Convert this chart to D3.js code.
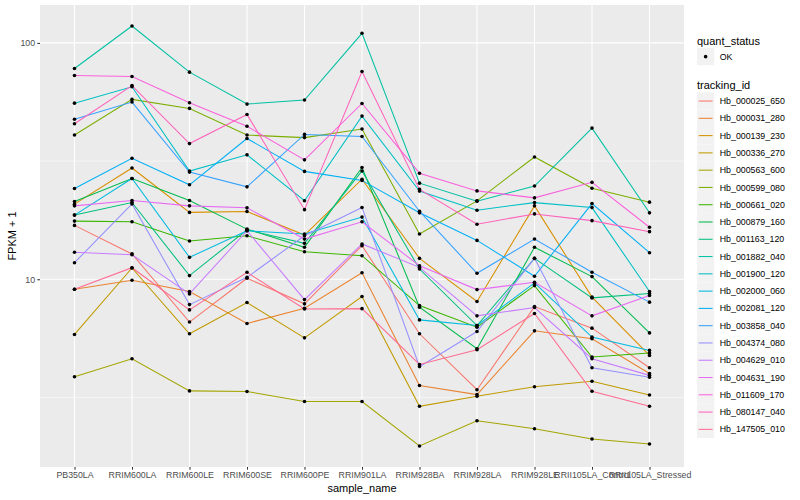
<!DOCTYPE html>
<html>
<head>
<meta charset="utf-8">
<script src="https://cdn.jsdelivr.net/npm/d3@7"></script>
<style>
  html, body { margin: 0; padding: 0; background: #ffffff; }
  svg { display: block; font-family: "Liberation Sans", Arial, Helvetica, sans-serif; }
</style>
</head>
<body>
<svg id="chart" width="800" height="500"></svg>
<script>
// ---------- data ----------
const samples = ["PB350LA", "RRIM600LA", "RRIM600LE", "RRIM600SE", "RRIM600PE", "RRIM901LA",
  "RRIM928BA", "RRIM928LA", "RRIM928LE", "RRII105LA_Control", "RRII105LA_Stressed"];

const trackingIds = ["Hb_000025_650", "Hb_000031_280", "Hb_000139_230", "Hb_000336_270", "Hb_000563_600",
  "Hb_000599_080", "Hb_000661_020", "Hb_000879_160", "Hb_001163_120", "Hb_001882_040",
  "Hb_001900_120", "Hb_002000_060", "Hb_002081_120", "Hb_003858_040", "Hb_004374_080",
  "Hb_004629_010", "Hb_004631_190", "Hb_011609_170", "Hb_080147_040", "Hb_147505_010"];

// FPKM + 1 per sample (same order as samples)
const hb_000025_650 = [16.9, 12.8, 6.59, 10.1, 7.87, 13.87, 5.88, 3.41, 7.66, 6.21, 4.22];
const hb_000031_280 = [9.07, 9.90, 8.87, 6.50, 7.54, 10.66, 3.55, 3.25, 6.05, 5.60, 3.99];
const hb_000139_230 = [20.78, 29.57, 19.18, 19.36, 15.38, 26.50, 12.26, 8.05, 20.44, 8.40, 4.76];
const hb_000336_270 = [5.84, 11.16, 5.88, 7.97, 5.65, 8.45, 2.90, 3.20, 3.51, 3.70, 3.24];
const hb_000563_600 = [3.87, 4.61, 3.37, 3.35, 3.04, 3.04, 1.97, 2.52, 2.33, 2.11, 2.01];
const hb_000599_080 = [40.75, 57.66, 52.82, 40.75, 39.74, 43.20, 15.53, 21.46, 32.91, 24.27, 21.19];
const hb_000661_020 = [17.62, 17.50, 14.51, 15.28, 13.08, 12.58, 7.74, 6.27, 9.40, 4.69, 4.87];
const hb_000879_160 = [21.33, 26.68, 21.54, 16.30, 13.65, 29.69, 7.62, 5.08, 13.65, 10.26, 5.93];
const hb_001163_120 = [18.68, 21.13, 10.36, 16.19, 14.19, 28.72, 11.05, 6.37, 12.26, 8.34, 8.70];
const hb_001882_040 = [77.9, 117.9, 75.2, 55.1, 57.3, 109.8, 25.5, 21.4, 24.8, 43.6, 19.1];
const hb_001900_120 = [55.6, 65.2, 28.7, 33.6, 21.5, 49.0, 23.6, 19.6, 21.1, 20.1, 8.87];
const hb_002000_060 = [18.68, 26.68, 12.38, 16.04, 15.53, 18.32, 6.73, 6.37, 9.65, 5.69, 5.00];
const hb_002081_120 = [24.2, 32.5, 25.1, 39.4, 28.6, 26.2, 19.1, 14.6, 10.3, 20.9, 12.95];
const hb_003858_040 = [47.5, 56.2, 28.4, 24.6, 41.0, 40.2, 19.4, 10.6, 14.8, 10.7, 8.0];
const hb_004374_080 = [11.75, 20.84, 7.81, 10.19, 15.28, 20.13, 4.27, 6.01, 12.26, 4.22, 3.85];
const hb_004629_010 = [13.0, 12.7, 8.67, 16.04, 8.20, 14.10, 11.23, 7.00, 7.59, 4.61, 3.92];
const hb_004631_190 = [20.44, 21.54, 20.44, 20.05, 14.79, 17.50, 11.41, 9.04, 9.71, 7.00, 8.53];
const hb_011609_170 = [72.8, 72.1, 55.8, 44.4, 32.0, 55.45, 28.1, 23.65, 22.1, 25.7, 16.6];
const hb_080147_040 = [45.5, 66.0, 37.5, 49.8, 19.7, 75.7, 24.0, 17.1, 18.9, 17.7, 15.9];
const hb_147505_010 = [9.07, 11.19, 7.42, 10.70, 7.49, 7.51, 4.36, 5.03, 7.16, 3.36, 2.90];

const seriesValues = [hb_000025_650, hb_000031_280, hb_000139_230, hb_000336_270, hb_000563_600,
  hb_000599_080, hb_000661_020, hb_000879_160, hb_001163_120, hb_001882_040,
  hb_001900_120, hb_002000_060, hb_002081_120, hb_003858_040, hb_004374_080,
  hb_004629_010, hb_004631_190, hb_011609_170, hb_080147_040, hb_147505_010];

const quantStatus = ["OK"];
const yTicks = [10, 100];

// ggplot default hue palette for 20 levels
const palette = ["#F8766D", "#EA8331", "#D89000", "#C09B00", "#A3A500", "#7CAE00", "#39B600", "#00BB4E",
  "#00BF7D", "#00C1A3", "#00BFC4", "#00BAE0", "#00B0F6", "#35A2FF", "#9590FF", "#C77CFF",
  "#E76BF3", "#FA62DB", "#FF62BC", "#FF6C91"];

// ---------- layout ----------
const svg = d3.select("#chart");
const W = 800, H = 500;
const panel = { left: 40, right: 684, top: 5, bottom: 467 };

const series = trackingIds.map((id, i) => ({
  id, color: palette[i],
  values: samples.map((s, j) => ({ sample: s, v: seriesValues[i][j] }))
}));

const allVals = seriesValues.flat();
const lmin = Math.log10(d3.min(allVals)), lmax = Math.log10(d3.max(allVals));
const pad = (lmax - lmin) * 0.05;

const x = d3.scalePoint().domain(samples).range([panel.left, panel.right]).padding(0.6);
const y = d3.scaleLog().domain([Math.pow(10, lmin - pad), Math.pow(10, lmax + pad)])
  .range([panel.bottom, panel.top]);

// panel background
svg.append("rect").attr("x", panel.left).attr("y", panel.top)
  .attr("width", panel.right - panel.left).attr("height", panel.bottom - panel.top)
  .attr("fill", "#EBEBEB");

const grid = svg.append("g");
// minor gridlines (midpoints in log space)
const minor = [Math.pow(10, 0.5), Math.pow(10, 1.5)].filter(v => v > y.domain()[0] && v < y.domain()[1]);
grid.selectAll("line.minor").data(minor).enter().append("line")
  .attr("x1", panel.left).attr("x2", panel.right)
  .attr("y1", d => y(d)).attr("y2", d => y(d))
  .attr("stroke", "#ffffff").attr("stroke-width", 0.55);
// major gridlines
grid.selectAll("line.majy").data(yTicks).enter().append("line")
  .attr("x1", panel.left).attr("x2", panel.right)
  .attr("y1", d => y(d)).attr("y2", d => y(d))
  .attr("stroke", "#ffffff").attr("stroke-width", 1.1);
grid.selectAll("line.majx").data(samples).enter().append("line")
  .attr("y1", panel.top).attr("y2", panel.bottom)
  .attr("x1", d => x(d)).attr("x2", d => x(d))
  .attr("stroke", "#ffffff").attr("stroke-width", 1.1);

// lines
const line = d3.line().x(d => x(d.sample)).y(d => y(d.v));
svg.append("g").selectAll("path").data(series).enter().append("path")
  .attr("d", d => line(d.values))
  .attr("fill", "none").attr("stroke", d => d.color).attr("stroke-width", 1.05);

// points
svg.append("g").selectAll("g").data(series).enter().append("g")
  .selectAll("circle").data(d => d.values).enter().append("circle")
  .attr("cx", d => x(d.sample)).attr("cy", d => y(d.v)).attr("r", 1.8).attr("fill", "#000000");

// axes
const axisCol = "#333333", textCol = "#4D4D4D";
const yAxis = svg.append("g").attr("transform", `translate(${panel.left},0)`)
  .call(d3.axisLeft(y).tickValues(yTicks).tickFormat(d3.format("d")).tickSize(2.7).tickPadding(2.2));
const xAxis = svg.append("g").attr("transform", `translate(0,${panel.bottom})`)
  .call(d3.axisBottom(x).tickSize(2.7).tickPadding(2.2));
[yAxis, xAxis].forEach(a => {
  a.select(".domain").remove();
  a.selectAll(".tick line").attr("stroke", axisCol).attr("stroke-width", 1.05);
  a.selectAll(".tick text").attr("fill", textCol).style("font-size", "8.8px")
    .style("font-family", "'Liberation Sans', Arial, sans-serif");
});

// axis titles
svg.append("text").attr("x", (panel.left + panel.right) / 2).attr("y", 492)
  .attr("text-anchor", "middle").style("font-size", "11px").attr("fill", "#000")
  .text("sample_name");
svg.append("text").attr("transform", `translate(16,${(panel.top + panel.bottom) / 2}) rotate(-90)`)
  .attr("text-anchor", "middle").style("font-size", "11px").attr("fill", "#000")
  .text("FPKM + 1");

// legends
const lg = svg.append("g");
const keyX = 697, keyS = 17.28;
lg.append("text").attr("x", keyX).attr("y", 44.5).style("font-size", "11px").text("quant_status");
const qs = lg.selectAll("g.qs").data(quantStatus).enter().append("g")
  .attr("transform", (d, i) => `translate(${keyX},${48 + i * keyS})`);
qs.append("rect").attr("width", keyS).attr("height", keyS).attr("fill", "#F2F2F2");
qs.append("circle").attr("cx", keyS / 2).attr("cy", keyS / 2).attr("r", 1.8).attr("fill", "#000");
qs.append("text").attr("x", keyS + 5.5).attr("y", keyS / 2).attr("dy", "0.35em")
  .style("font-size", "8.8px").text(d => d);

lg.append("text").attr("x", keyX).attr("y", 88.5).style("font-size", "11px").text("tracking_id");
const ti = lg.selectAll("g.ti").data(series).enter().append("g")
  .attr("transform", (d, i) => `translate(${keyX},${92.4 + i * keyS})`);
ti.append("rect").attr("width", keyS).attr("height", keyS).attr("fill", "#F2F2F2");
ti.append("line").attr("x1", 1.7).attr("x2", keyS - 1.7).attr("y1", keyS / 2).attr("y2", keyS / 2)
  .attr("stroke", d => d.color).attr("stroke-width", 1.05);
ti.append("text").attr("x", keyS + 5.5).attr("y", keyS / 2).attr("dy", "0.35em")
  .style("font-size", "8.8px").text(d => d.id);
</script>
</body>
</html>
